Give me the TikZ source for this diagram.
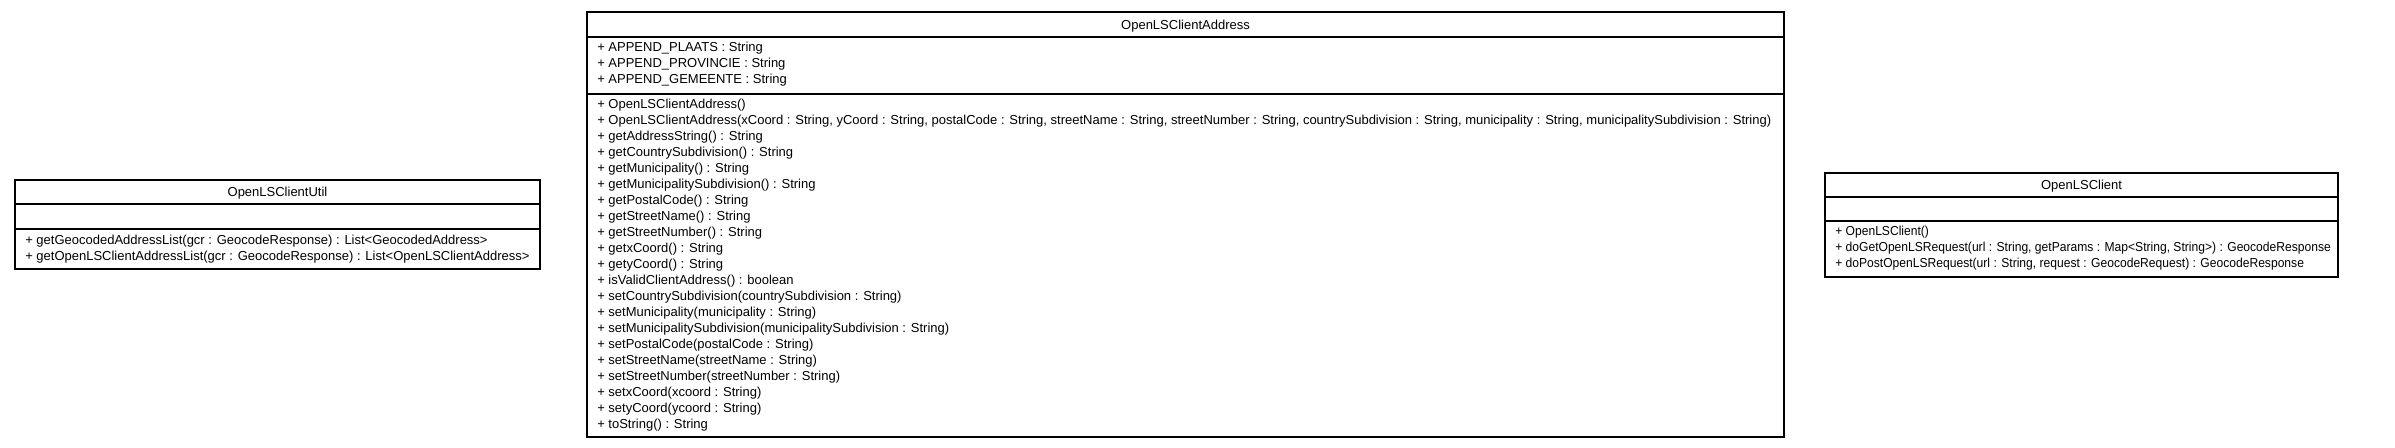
\documentclass[tikz,border=0pt]{standalone}
\usepackage{fontspec}
\setmainfont{Liberation Sans}
\begin{document}
\begin{tikzpicture}[x=0.75pt,y=-0.75pt,
  frame/.style={draw=black, line width=1.1pt, inner sep=0pt, outer sep=0pt, anchor=north west, fill=white},
  divider/.style={draw=black, line width=0.8pt},
  member/.style={anchor=base west, inner sep=0pt, font=\fontsize{9.75pt}{12pt}\selectfont},
  narrow/.style={xscale=0.93},
  title/.style={anchor=base, inner sep=0pt, font=\fontsize{9.75pt}{12pt}\selectfont}]
\useasboundingbox (0,0) rectangle (2395,448);
\fill[white] (0,0) rectangle (2395,448);

% ---------- OpenLSClientUtil ----------
\node[frame, minimum width=525*0.75pt, minimum height=89*0.75pt] (util) at (15,180) {};
\draw[divider] (15,204) -- (540,204);
\draw[divider] (15,229) -- (540,229);
\node[title] (util-t) at (277.5,197) {OpenLSClientUtil};
\node[member] (util-m0) at (25,245) {+ getGeocodedAddressList(gcr : GeocodeResponse) : List<GeocodedAddress>};
\node[member] (util-m1) at (25,261) {+ getOpenLSClientAddressList(gcr : GeocodeResponse) : List<OpenLSClientAddress>};

% ---------- OpenLSClientAddress ----------
\node[frame, minimum width=1197*0.75pt, minimum height=425*0.75pt] (addr) at (587,12) {};
\draw[divider] (587,37) -- (1784,37);
\draw[divider] (587,94) -- (1784,94);
\node[title] (addr-t) at (1185.5,30) {OpenLSClientAddress};
\foreach \t [count=\i from 0] in {
  {+ APPEND\_PLAATS : String},
  {+ APPEND\_PROVINCIE : String},
  {+ APPEND\_GEMEENTE : String}}
  \node[member] (addr-a\i) at (597,{52+16*\i}) {\t};
\foreach \t [count=\i from 0] in {
  {+ OpenLSClientAddress()},
  {+ OpenLSClientAddress(xCoord : String, yCoord : String, postalCode : String, streetName : String, streetNumber : String, countrySubdivision : String, municipality : String, municipalitySubdivision : String)},
  {+ getAddressString() : String},
  {+ getCountrySubdivision() : String},
  {+ getMunicipality() : String},
  {+ getMunicipalitySubdivision() : String},
  {+ getPostalCode() : String},
  {+ getStreetName() : String},
  {+ getStreetNumber() : String},
  {+ getxCoord() : String},
  {+ getyCoord() : String},
  {+ isValidClientAddress() : boolean},
  {+ setCountrySubdivision(countrySubdivision : String)},
  {+ setMunicipality(municipality : String)},
  {+ setMunicipalitySubdivision(municipalitySubdivision : String)},
  {+ setPostalCode(postalCode : String)},
  {+ setStreetName(streetName : String)},
  {+ setStreetNumber(streetNumber : String)},
  {+ setxCoord(xcoord : String)},
  {+ setyCoord(ycoord : String)},
  {+ toString() : String}}
  \node[member] (addr-m\i) at (597,{109+16*\i}) {\t};

% ---------- OpenLSClient ----------
\node[frame, minimum width=513*0.75pt, minimum height=104*0.75pt] (client) at (1825,173) {};
\draw[divider] (1825,197) -- (2338,197);
\draw[divider] (1825,221) -- (2338,221);
\node[title] (client-t) at (2081.5,190) {OpenLSClient};
\foreach \t [count=\i from 0] in {
  {+ OpenLSClient()},
  {+ doGetOpenLSRequest(url : String, getParams : Map<String, String>) : GeocodeResponse},
  {+ doPostOpenLSRequest(url : String, request : GeocodeRequest) : GeocodeResponse}}
  \node[member, narrow] (client-m\i) at (1835,{236+16*\i}) {\t};
\end{tikzpicture}
\end{document}
